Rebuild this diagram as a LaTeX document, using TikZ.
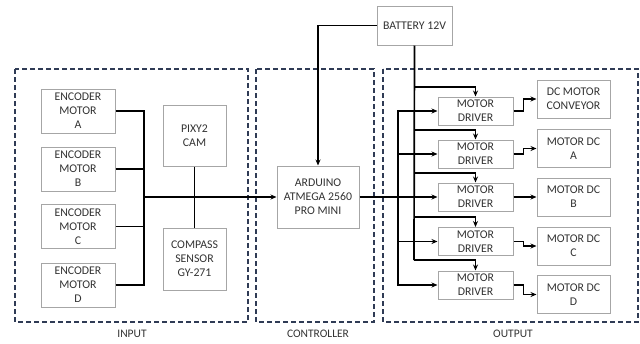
\documentclass[tikz,border=0pt]{standalone}
\usepackage{fontspec}
\setmainfont{Carlito}
\usetikzlibrary{arrows.meta}
\definecolor{boxgray}{HTML}{A6A6A6}
\definecolor{txtgray}{HTML}{333333}
\definecolor{dashnavy}{HTML}{2F3B55}
\tikzset{
  blk/.style={draw=boxgray, line width=1pt, fill=white, text=txtgray, align=center, inner sep=0pt,
    font=\fontsize{11.8}{14}\selectfont},
  grp/.style={draw=dashnavy, line width=1.1pt, dash pattern=on 5pt off 3pt},
  lbl/.style={text=txtgray, font=\fontsize{11.5}{14}\selectfont, inner sep=0pt},
  wire/.style={line width=1.7pt, black},
  arr/.style={wire, -{Stealth[length=6pt,width=5pt]}},
}
\begin{document}
\begin{tikzpicture}[x=1pt,y=-1pt]
\useasboundingbox (0,0) rectangle (640,343);
% groups
\draw[grp] (15,69) rectangle (248,322);
\draw[grp] (256,69) rectangle (374,322);
\draw[grp] (383,69) rectangle (638,322);
\node[lbl] (lin) at (132,334) {INPUT};
\node[lbl] (lctl) at (318,334) {CONTROLLER};
\node[lbl] (lout) at (513,334) {OUTPUT};
% input
\node[blk, minimum width=74pt, minimum height=44pt] (eA) at (78,111) {ENCODER\\MOTOR\\A};
\node[blk, minimum width=74pt, minimum height=44pt] (eB) at (78,169) {ENCODER\\MOTOR\\B};
\node[blk, minimum width=74pt, minimum height=44pt] (eC) at (78,226.5) {ENCODER\\MOTOR\\C};
\node[blk, minimum width=74pt, minimum height=44pt] (eD) at (78,285) {ENCODER\\MOTOR\\D};
\node[blk, minimum width=63pt, minimum height=61pt] (pixy) at (194.5,135.5) {PIXY2\\CAM};
\node[blk, minimum width=63pt, minimum height=62pt] (comp) at (194.5,259) {COMPASS\\SENSOR\\GY-271};
% controller
\node[blk, minimum width=82pt, minimum height=62pt] (ard) at (318,197) {ARDUINO\\ATMEGA 2560\\PRO MINI};
\node[blk, minimum width=75pt, minimum height=39pt] (bat) at (414.5,25.5) {BATTERY 12V};
% output
\foreach \i/\y in {1/111,2/154,3/197,4/241.5,5/285}
  \node[blk, minimum width=75pt, minimum height=28pt] (d\i) at (475.5,\y) {MOTOR\\DRIVER};
\node[blk, minimum width=73pt, minimum height=38pt] (m1) at (573.5,99) {DC MOTOR\\CONVEYOR};
\node[blk, minimum width=73pt, minimum height=38pt] (m2) at (573.5,148.5) {MOTOR DC\\A};
\node[blk, minimum width=73pt, minimum height=38pt] (m3) at (573.5,197) {MOTOR DC\\B};
\node[blk, minimum width=73pt, minimum height=38pt] (m4) at (573.5,246) {MOTOR DC\\C};
\node[blk, minimum width=73pt, minimum height=38pt] (m5) at (573.5,294.5) {MOTOR DC\\D};
% coordinates
\coordinate (ib) at (144,197);
\coordinate (cb) at (398,197);
\coordinate (b1) at (414,87);
\coordinate (b2) at (414,130);
\coordinate (b3) at (414,173);
\coordinate (b4) at (414,217);
\coordinate (b5) at (414,260);
% input wiring
\foreach \e in {eA,eB,eC,eD} \draw[wire] (\e.east) -| (ib);
\draw[wire] (pixy.south) -- (comp.north);
\draw[arr] (ib) -- (ard.west);
% battery
\draw[arr] (bat.west) -| (ard.north);
\draw[wire] (bat.south) -- (b5);
\foreach \i in {1,...,5} \draw[arr] (b\i) -| (d\i.north);
% control
\draw[arr] (ard.east) -- (d3.west);
\foreach \i in {1,2,4,5} \draw[arr] (cb) |- (d\i.west);
% drivers to motors
\foreach \i in {1,...,5} \draw[arr] (d\i.east) -- ++(10,0) |- (m\i.west);
\end{tikzpicture}
\end{document}
